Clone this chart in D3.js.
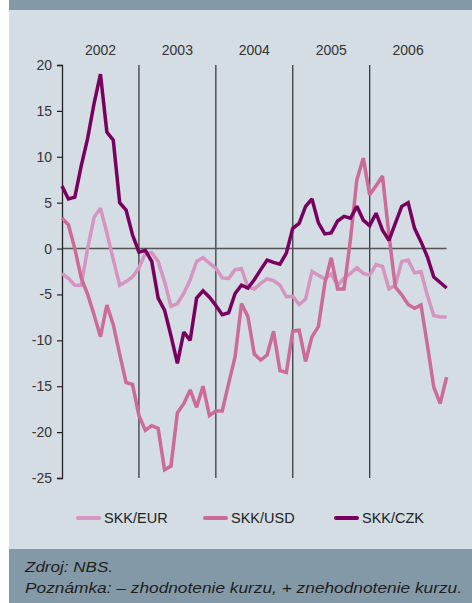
<!DOCTYPE html>
<html>
<head>
<meta charset="utf-8">
<script src="https://cdn.jsdelivr.net/npm/d3@7"></script>
<style>
  body { margin: 0; background: #fff; }
  svg { display: block; font-family: "Liberation Sans", Arial, sans-serif; }
</style>
</head>
<body>
<div id="chart"></div>
<script>
// monthly data, Jan 2002 .. Jan 2007 (61 points)
var years = ["2002", "2003", "2004", "2005", "2006"];
var yTicks = [20, 15, 10, 5, 0, -5, -10, -15, -20, -25];

var eur = [-2.7, -3.25, -4.0, -4.0, 0.0, 3.4, 4.4, 1.7, -1.2, -4.0, -3.6, -3.1,
           -2.1, -0.5, -0.45, -1.4, -3.6, -6.3, -6.0, -4.9, -3.4, -1.4, -1.0, -1.6,
           -2.15, -3.2, -3.25, -2.3, -2.2, -4.2, -4.4, -3.8, -3.3, -3.5, -4.0, -5.25,
           -5.2, -6.1, -5.5, -2.5, -2.9, -3.3, -2.75, -4.0, -3.25, -2.7, -2.1, -2.7,
           -2.9, -1.75, -1.95, -4.4, -4.0, -1.4, -1.25, -2.65, -2.5, -5.1, -7.3, -7.45,
           -7.45];
var usd = [3.3, 2.6, 0.0, -3.2, -5.0, -7.2, -9.6, -6.15, -8.3, -11.5, -14.6, -14.8,
           -18.2, -19.8, -19.3, -19.6, -24.1, -23.7, -17.9, -16.9, -15.4, -17.3, -15.0, -18.2,
           -17.7, -17.7, -14.7, -11.8, -6.0, -7.4, -11.5, -12.15, -11.6, -9.0, -13.3, -13.5,
           -9.0, -8.9, -12.3, -9.6, -8.5, -3.8, -1.0, -4.4, -4.4, 1.0, 7.5, 9.85,
           5.85, 6.85, 7.9, 1.5, -4.2, -5.05, -6.1, -6.5, -6.15, -10.5, -15.1, -16.9,
           -14.0];
var czk = [6.8, 5.4, 5.6, 9.0, 12.0, 15.8, 19.0, 12.7, 11.8, 5.0, 4.2, 1.5,
           -0.4, -0.2, -1.4, -5.4, -6.7, -9.5, -12.5, -9.1, -10.0, -5.4, -4.6, -5.3,
           -6.2, -7.2, -7.0, -4.9, -4.0, -4.3, -3.4, -2.3, -1.25, -1.5, -1.7, -0.5,
           2.2, 2.75, 4.6, 5.4, 2.8, 1.6, 1.7, 3.0, 3.5, 3.3, 4.6, 3.1,
           2.5, 3.85, 2.0, 0.9, 2.75, 4.6, 5.0, 2.2, 0.75, -0.9, -3.1, -3.7,
           -4.3];

var series = [
  {name: "SKK/EUR", values: eur, color: "#d594c2"},
  {name: "SKK/USD", values: usd, color: "#cd6b98"},
  {name: "SKK/CZK", values: czk, color: "#7a0060"}
];

var width = 472, height = 603;

var svg = d3.select("#chart").append("svg")
    .attr("width", width)
    .attr("height", height);

// panels
svg.append("rect").attr("x", 9).attr("y", 0).attr("width", width - 9).attr("height", 10).attr("fill", "#8499a7");
svg.append("rect").attr("x", 9).attr("y", 10).attr("width", width - 9).attr("height", 539).attr("fill", "#d3dde3");
svg.append("rect").attr("x", 9).attr("y", 549).attr("width", width - 9).attr("height", height - 549).attr("fill", "#8499a7");

var x = d3.scaleLinear().domain([0, 60]).range([62, 446.6]);
var y = d3.scaleLinear().domain([-25, 20]).range([478, 65]);

// year separators
svg.selectAll(".sep")
    .data([12, 24, 36, 48])
    .enter().append("line")
    .attr("x1", function (d) { return x(d); })
    .attr("x2", function (d) { return x(d); })
    .attr("y1", y(20))
    .attr("y2", y(-25))
    .attr("stroke", "#3a3a3a")
    .attr("stroke-width", 1.3);

// zero line
svg.append("line")
    .attr("x1", x(0)).attr("x2", x(60))
    .attr("y1", y(0)).attr("y2", y(0))
    .attr("stroke", "#555")
    .attr("stroke-width", 1.6);

// y axis
var yAxis = d3.axisLeft(y)
    .tickValues(yTicks)
    .tickSize(5)
    .tickPadding(5)
    .tickFormat(function (d) { return String(d); });

var gy = svg.append("g")
    .attr("transform", "translate(" + x(0) + ",0)")
    .call(yAxis);
gy.select(".domain").attr("stroke", "#222").attr("stroke-width", 1.3);
gy.selectAll(".tick line").attr("stroke", "#222").attr("stroke-width", 1.2);
gy.selectAll(".tick text").attr("fill", "#333").attr("font-size", 14)
    .attr("font-family", "Liberation Sans, Arial, sans-serif");

// year labels
svg.selectAll(".year")
    .data(years)
    .enter().append("text")
    .attr("x", function (d, i) { return x(i * 12 + 6); })
    .attr("y", 55)
    .attr("text-anchor", "middle")
    .attr("font-size", 14)
    .attr("fill", "#333")
    .text(function (d) { return d; });

// lines
var line = d3.line()
    .x(function (d, i) { return x(i); })
    .y(function (d) { return y(d); });

svg.selectAll(".series")
    .data(series)
    .enter().append("path")
    .attr("d", function (d) { return line(d.values); })
    .attr("fill", "none")
    .attr("stroke", function (d) { return d.color; })
    .attr("stroke-width", 3.5)
    .attr("stroke-linejoin", "miter")
    .attr("stroke-miterlimit", 2);

// legend
var legendX = [78, 205, 336];
var lg = svg.selectAll(".legend")
    .data(series)
    .enter().append("g")
    .attr("transform", function (d, i) { return "translate(" + legendX[i] + ",518)"; });
lg.append("line")
    .attr("x1", 0).attr("x2", 21)
    .attr("stroke", function (d) { return d.color; })
    .attr("stroke-width", 4)
    .attr("stroke-linecap", "round");
lg.append("text")
    .attr("x", 26)
    .attr("y", 5)
    .attr("font-size", 14.5)
    .attr("fill", "#222")
    .text(function (d) { return d.name; });

// footer
svg.append("text")
    .attr("x", 25).attr("y", 572)
    .attr("font-size", 15).attr("font-style", "italic").attr("fill", "#1e1e1e")
    .attr("textLength", 88).attr("lengthAdjust", "spacingAndGlyphs")
    .text("Zdroj: NBS.");
svg.append("text")
    .attr("x", 25).attr("y", 593)
    .attr("font-size", 15).attr("font-style", "italic").attr("fill", "#1e1e1e")
    .attr("textLength", 437).attr("lengthAdjust", "spacingAndGlyphs")
    .text("Poznámka: – zhodnotenie kurzu, + znehodnotenie kurzu.");
</script>
</body>
</html>
